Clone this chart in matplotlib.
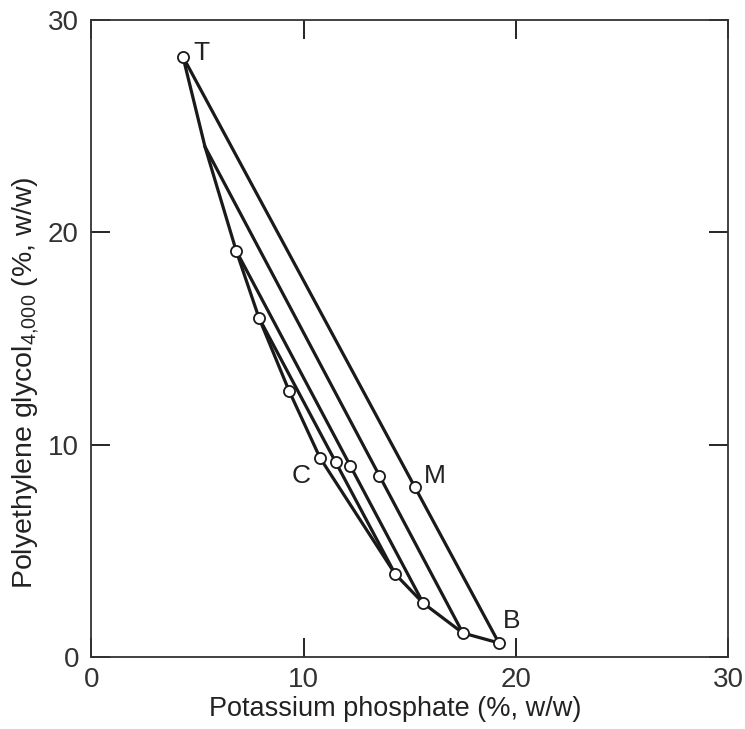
import matplotlib
matplotlib.use('Agg')
import matplotlib.pyplot as plt

plt.rcParams['font.family'] = ['Liberation Sans', 'DejaVu Sans']
plt.rcParams['mathtext.fontset'] = 'custom'
plt.rcParams['mathtext.rm'] = 'Liberation Sans'

# binodal curve (potassium phosphate %, PEG %)
binodal_x = [4.31, 5.35, 6.82, 7.89, 9.31, 10.77, 14.31, 15.63, 17.50, 19.20]
binodal_y = [28.27, 24.03, 19.13, 15.98, 12.54, 9.38, 3.91, 2.54, 1.13, 0.66]
# which binodal points carry an open marker
binodal_marked = [True, False, True, True, True, True, True, True, True, True]

# tie lines: top-phase end, bottom-phase end
tie_top_x = [4.31, 5.35, 6.82, 7.89]
tie_top_y = [28.27, 24.03, 19.13, 15.98]
tie_bot_x = [19.20, 17.50, 15.63, 14.31]
tie_bot_y = [0.66, 1.13, 2.54, 3.91]

# mixture points on the tie lines
mix_x = [15.24, 13.55, 12.18, 11.52]
mix_y = [8.01, 8.53, 9.00, 9.19]

labels = ['T', 'M', 'C', 'B']
label_x = [4.8, 15.65, 9.45, 19.4]
label_y = [28.1, 8.2, 8.2, 1.35]

fig = plt.figure(figsize=(7.45, 7.29), dpi=100)
ax = fig.add_axes([0.1228, 0.0988, 0.8544, 0.8738])

lw = 2.3
col = '#1a1a1a'
ax.plot(binodal_x, binodal_y, '-', color=col, lw=lw, zorder=2)
for x0, y0, x1, y1 in zip(tie_top_x, tie_top_y, tie_bot_x, tie_bot_y):
    ax.plot([x0, x1], [y0, y1], '-', color=col, lw=lw, zorder=2)

mx = [x for x, m in zip(binodal_x, binodal_marked) if m] + mix_x
my = [y for y, m in zip(binodal_y, binodal_marked) if m] + mix_y
ax.plot(mx, my, 'o', ms=8, mfc='white', mec=col, mew=1.3, zorder=3)

for t, x, y in zip(labels, label_x, label_y):
    ax.text(x, y, t, fontsize=19, color='#222222', ha='left', va='baseline')

ax.set_xlim(0, 30)
ax.set_ylim(0, 30)
ax.set_xticks([0, 10, 20, 30])
ax.set_yticks([0, 10, 20, 30])
ax.tick_params(direction='in', length=14, width=1.2, top=True, right=True,
               labelsize=20, labelcolor='#333333', pad=9)
ax.tick_params(axis='x', pad=7)
for s in ax.spines.values():
    s.set_linewidth(1.3)
    s.set_color('#333333')

ax.set_xlabel('Potassium phosphate (%, w/w)', fontsize=19.5, color='#222222')
ax.set_ylabel('Polyethylene glycol$_{\\mathrm{4{,}000}}$ (%, w/w)', fontsize=20.5, color='#222222')
ax.xaxis.set_label_coords(0.477, -0.062)
ax.yaxis.set_label_coords(-0.078, 0.43)

fig.savefig('out.png', dpi=100)
